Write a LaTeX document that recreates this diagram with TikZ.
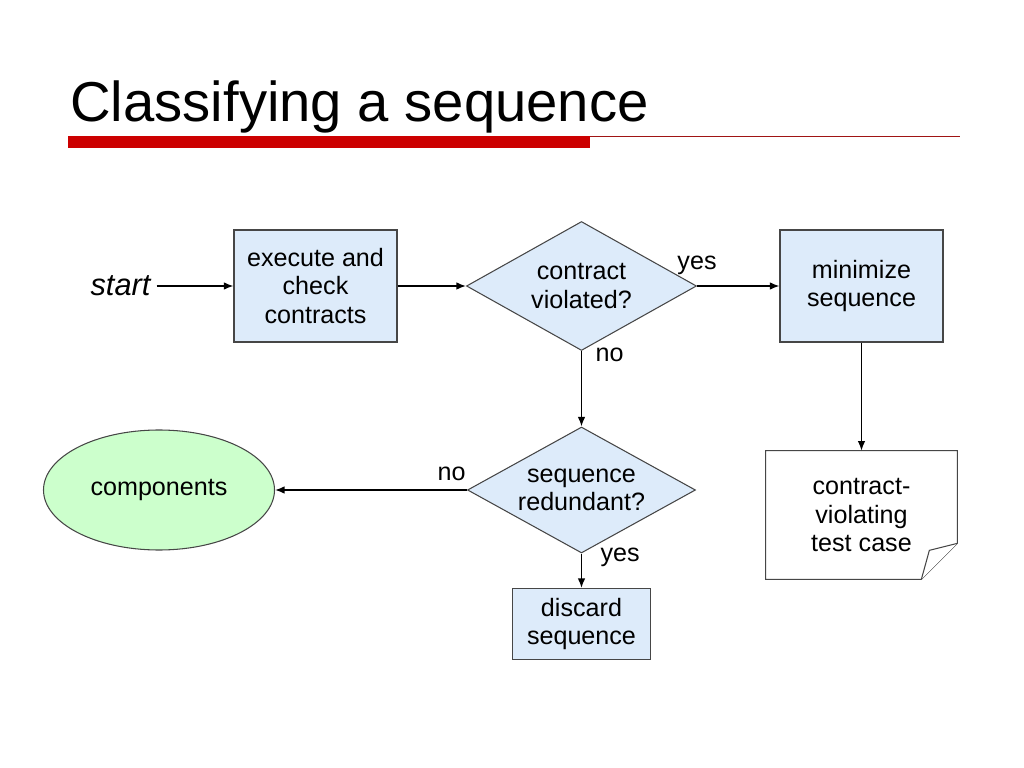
\documentclass[tikz,border=0pt]{standalone}
\usepackage{fontspec}
\setmainfont{Liberation Sans}
\usepackage{tikz}
\usetikzlibrary{calc,positioning,shapes.geometric,arrows.meta,backgrounds}
\definecolor{boxblue}{RGB}{221,235,250}
\definecolor{boxgreen}{RGB}{204,255,204}
\definecolor{edgegray}{RGB}{70,70,70}
\definecolor{barred}{RGB}{204,0,0}
\definecolor{linered}{RGB}{160,20,20}
\tikzset{
>={Latex[length=1.9mm,width=1.5mm]}, % filled arrow heads
node distance=4cm, % default spacing, overridden below
every node/.style={font=\fontsize{14.3}{16.2}\selectfont, align=center},
process/.style={rectangle, draw=edgegray, fill=boxblue, line width=0.6pt, minimum width=3.26cm, minimum height=2.24cm},
decision/.style={diamond, draw=edgegray, fill=boxblue, line width=0.6pt, aspect=1.78, inner sep=0pt, minimum width=4.6cm, minimum height=2.58cm},
flow/.style={->, line width=0.8pt},
}

\begin{document}
\begin{tikzpicture}[on grid, auto]
        \useasboundingbox (0,0) rectangle (20.48,-15.36);
        % title and bar
        \node[anchor=base west, inner sep=0pt, font=\fontsize{32}{38}\selectfont] (title) at (1.4,-2.44) {Classifying a sequence};
        \fill[barred] (1.36,-2.72) rectangle (11.8,-2.96);
        \draw[linered, line width=0.6pt] (11.8,-2.73) -- (19.2,-2.73);

        \node[process] (exec) at (6.31,-5.72) {execute and\\check\\contracts};
        \node[font=\fontsize{17.5}{20}\selectfont\itshape] (start) [left=3.9cm of exec] {start};
        \node[decision] (viol) [right=5.32cm of exec] {contract\\violated?};
        \node[process] (mini) [right=5.6cm of viol] {minimize\\sequence};
        \node[decision, minimum width=4.56cm, minimum height=2.52cm] (redun) [below=4.08cm of viol] {sequence\\redundant?};
        \node[process, minimum width=2.76cm, minimum height=1.42cm] (disc) [below=2.68cm of redun] {discard\\sequence};
        \node[ellipse, draw=edgegray, fill=boxgreen, line width=0.6pt, minimum width=4.62cm, minimum height=2.4cm] (comp) [left=8.45cm of redun] {components};
        \node[minimum width=3.82cm, minimum height=2.56cm] (note) [below=4.58cm of mini] {contract-\\violating\\test case};

        % dog-eared note outline
        \begin{scope}[on background layer]
        \draw[edgegray, fill=white, line width=0.6pt] (note.north west) -- (note.north east)
            -- ([yshift=0.72cm]note.south east) -- ([xshift=-0.72cm]note.south east)
            -- (note.south west) -- cycle;
        \draw[edgegray, fill=white, line width=0.6pt] ([yshift=0.72cm]note.south east)
            -- ($(note.south east)+(-0.56,0.58)$) -- ([xshift=-0.72cm]note.south east);
        \end{scope}

        \path[flow]
        (start) edge (exec)
        (exec) edge (viol)
        (viol) edge node[pos=0, above=0.1cm] {yes} (mini)
        (viol) edge node[pos=0.05, right=0.15cm] {no} (redun)
        (redun) edge node[pos=0.08, above=0.05cm] {no} (comp)
        (redun) edge node[pos=0.1, right=0.25cm] {yes} (disc)
        (mini) edge (note);
\end{tikzpicture}
\end{document}
